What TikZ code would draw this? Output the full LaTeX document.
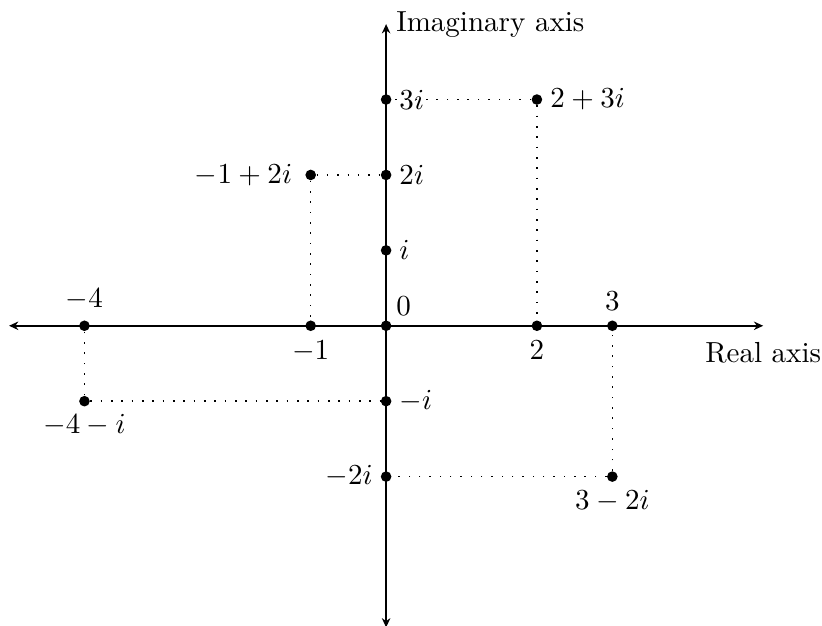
\documentclass[11pt,tikz,border=0pt]{standalone}
\usepackage{tikz}
\usetikzlibrary{arrows.meta,positioning}
\usepackage{amsmath}

\begin{document}
\begin{tikzpicture}[
  axis/.style={{Stealth[length=3.5pt,width=3.2pt]}-{Stealth[length=3.5pt,width=3.2pt]},thick},
  pt/.style={circle,fill=black,inner sep=0pt,minimum size=4pt},
  guide/.style={line width=0.6pt,dash pattern=on 0.6pt off 3.3pt},
]
\useasboundingbox (-5.12,-3.97) rectangle (5.78,4.32);
% axes
\coordinate (xl) at (-5,0);
\coordinate (xr) at (5,0);
\coordinate (yb) at (0,-4);
\coordinate (yt) at (0,4);
\draw[axis] (xl) -- (xr);
\draw[axis] (yb) -- (yt);
\node[below=0.08cm] (rlab) at (xr) {Real axis};
\node[right] (ilab) at (yt) {Imaginary axis};
% points on the real axis
\node[pt] (o) at (0,0) {};
\node[above right] (lo) at (o) {$0$};
\node[pt] (rm4) at (-4,0) {};
\node[above=2pt] (lrm4) at (rm4) {$-4$};
\node[pt] (rm1) at (-1,0) {};
\node[below=2pt] (lrm1) at (rm1) {$-1$};
\node[pt] (r2) at (2,0) {};
\node[below=2pt] (lr2) at (r2) {$2$};
\node[pt] (r3) at (3,0) {};
\node[above=2pt] (lr3) at (r3) {$3$};
% points on the imaginary axis
\node[pt] (i3) at (0,3) {};
\node[right=-1pt] (li3) at (i3.east) {$3i$};
\node[pt] (i2) at (0,2) {};
\node[right=-1pt] (li2) at (i2.east) {$2i$};
\node[pt] (i1) at (0,1) {};
\node[right=-1pt] (li1) at (i1.east) {$i$};
\node[pt] (im1) at (0,-1) {};
\node[right=-1pt] (lim1) at (im1.east) {$-i$};
\node[pt] (im2) at (0,-2) {};
\node[left=-1pt] (lim2) at (im2.west) {$-2i$};
% complex numbers
\node[pt] (z1) at (2,3) {};
\node[right=-1pt] (lz1) at (z1.east) {$2+3i$};
\node[pt] (z2) at (-1,2) {};
\node[left=1pt] (lz2) at (z2.west) {$-1+2i$};
\node[pt] (z3) at (-4,-1) {};
\node[below=-1pt] (lz3) at (z3.south) {$-4-i$};
\node[pt] (z4) at (3,-2) {};
\node[below=-1pt] (lz4) at (z4.south) {$3-2i$};
% projections
\draw[guide] (z1) -- (i3);
\draw[guide] (z1) -- (r2);
\draw[guide] (z2) -- (i2);
\draw[guide] (z2) -- (rm1);
\draw[guide] (z3) -- (im1);
\draw[guide] (z3) -- (rm4);
\draw[guide] (z4) -- (im2);
\draw[guide] (z4) -- (r3);
\end{tikzpicture}
\end{document}
